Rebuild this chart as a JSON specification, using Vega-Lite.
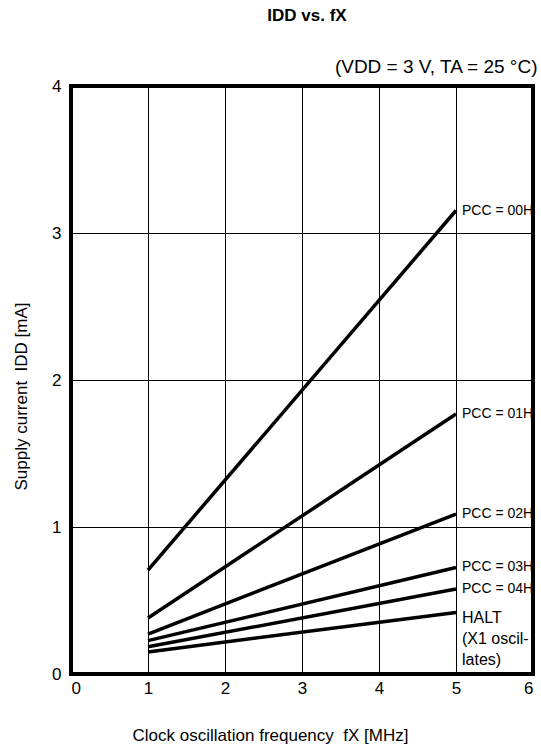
{
  "$schema": "https://vega.github.io/schema/vega-lite/v6.json",
  "width": 462,
  "height": 588,
  "autosize": "none",
  "padding": {"left": 71, "top": 86, "right": 8, "bottom": 78},
  "background": "white",
  "title": {
    "text": "IDD vs. fX",
    "font": "Liberation Sans",
    "fontSize": 17,
    "fontWeight": "bold",
    "color": "black",
    "anchor": "middle",
    "frame": "group",
    "offset": 4,
    "dx": 5,
    "dy": -28
  },
  "config": {
    "view": {"stroke": "black", "strokeWidth": 4},
    "font": "Liberation Sans",
    "axis": {
      "labelFont": "Liberation Sans",
      "labelFontSize": 17,
      "labelColor": "black",
      "titleFont": "Liberation Sans",
      "titleFontSize": 17,
      "titleFontWeight": "normal",
      "titleColor": "black",
      "ticks": false,
      "domain": false,
      "gridColor": "black",
      "gridWidth": 1,
      "gridOpacity": 1,
      "format": "d"
    }
  },
  "resolve": {"axis": {"x": "independent", "y": "independent"}},
  "datasets": {
    "lines": [
      {"f": 1, "i": 0.707, "s": "PCC = 00H"},
      {"f": 5, "i": 3.153, "s": "PCC = 00H"},
      {"f": 1, "i": 0.381, "s": "PCC = 01H"},
      {"f": 5, "i": 1.769, "s": "PCC = 01H"},
      {"f": 1, "i": 0.272, "s": "PCC = 02H"},
      {"f": 5, "i": 1.088, "s": "PCC = 02H"},
      {"f": 1, "i": 0.227, "s": "PCC = 03H"},
      {"f": 5, "i": 0.725, "s": "PCC = 03H"},
      {"f": 1, "i": 0.185, "s": "PCC = 04H"},
      {"f": 5, "i": 0.578, "s": "PCC = 04H"},
      {"f": 1, "i": 0.15, "s": "HALT"},
      {"f": 5, "i": 0.419, "s": "HALT"}
    ],
    "labels": [
      {"f": 5, "i": 3.153, "label": "PCC = 00H"},
      {"f": 5, "i": 1.769, "label": "PCC = 01H"},
      {"f": 5, "i": 1.088, "label": "PCC = 02H"},
      {"f": 5, "i": 0.725, "label": "PCC = 03H"},
      {"f": 5, "i": 0.578, "label": "PCC = 04H"}
    ],
    "halt": [
      {"f": 5, "i": 0.419, "label": "HALT\n(X1 oscil-\nlates)"}
    ]
  },
  "layer": [
    {
      "data": {"name": "lines"},
      "mark": {"type": "line", "color": "black", "strokeWidth": 3.5},
      "encoding": {
        "x": {
          "field": "f", "type": "quantitative",
          "scale": {"domain": [0, 6], "nice": false},
          "axis": {
            "orient": "bottom",
            "values": [0, 1, 2, 3, 4, 5, 6],
            "grid": true,
            "labelPadding": 6,
            "title": "Clock oscillation frequency\u00a0 fX [MHz]",
            "titleX": 199,
            "titleY": 61,
            "titleBaseline": "middle"
          }
        },
        "y": {
          "field": "i", "type": "quantitative",
          "scale": {"domain": [0, 4], "nice": false},
          "axis": {
            "orient": "left",
            "values": [0, 1, 2, 3, 4],
            "grid": true,
            "labelPadding": 10,
            "title": "Supply current\u00a0 IDD [mA]",
            "titleX": -50,
            "titleY": 310,
            "titleBaseline": "middle",
            "titleAngle": -90
          }
        },
        "detail": {"field": "s"}
      }
    },
    {
      "data": {"name": "labels"},
      "mark": {
        "type": "text", "align": "left", "baseline": "middle", "dx": 6,
        "font": "Liberation Sans", "fontSize": 14, "color": "black"
      },
      "encoding": {
        "x": {
          "field": "f", "type": "quantitative",
          "axis": {
            "orient": "top",
            "labels": false,
            "grid": false,
            "title": "(VDD = 3 V, TA = 25 °C)",
            "titleX": 466,
            "titleY": -20,
            "titleAlign": "right",
            "titleBaseline": "middle",
            "titleFontSize": 19
          }
        },
        "y": {"field": "i", "type": "quantitative", "axis": null},
        "text": {"field": "label"}
      }
    },
    {
      "data": {"name": "halt"},
      "mark": {
        "type": "text", "align": "left", "baseline": "alphabetic", "dx": 6, "dy": 11,
        "lineBreak": "\n", "lineHeight": 21,
        "font": "Liberation Sans", "fontSize": 16, "color": "black"
      },
      "encoding": {
        "x": {"field": "f", "type": "quantitative", "axis": null},
        "y": {"field": "i", "type": "quantitative", "axis": null},
        "text": {"field": "label"}
      }
    }
  ]
}
